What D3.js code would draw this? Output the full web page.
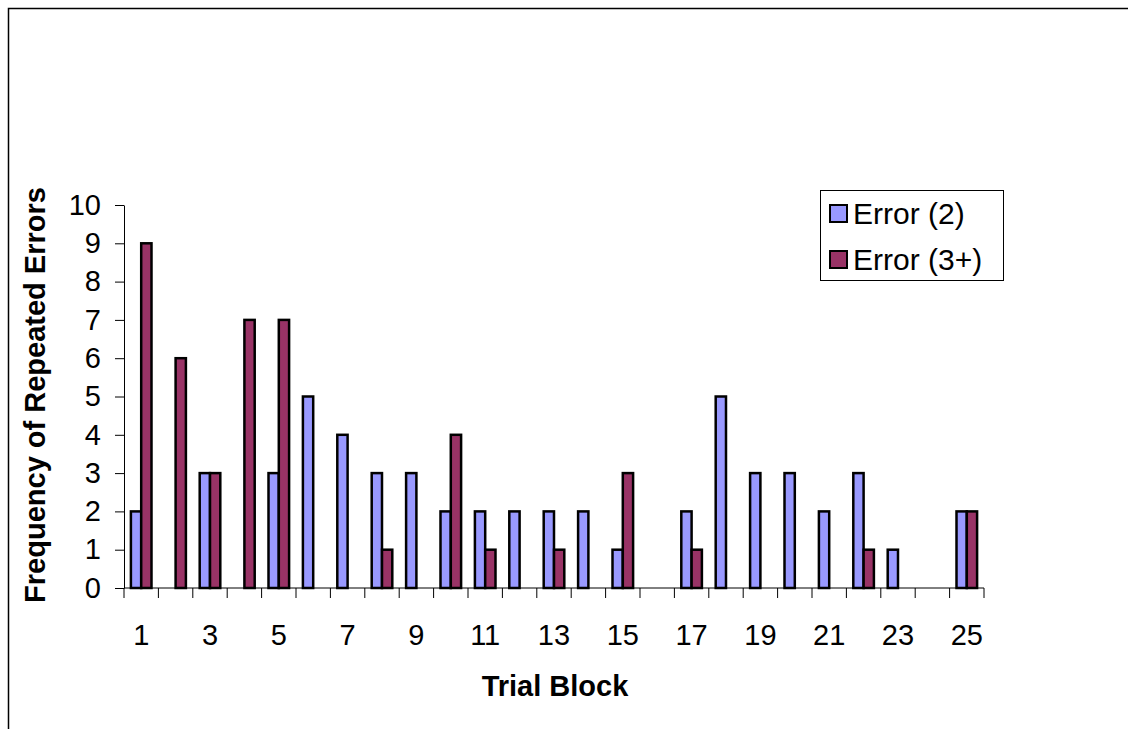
<!DOCTYPE html>
<html>
<head>
<meta charset="utf-8">
<script src="https://cdn.jsdelivr.net/npm/d3@7"></script>
<style>
html,body{margin:0;padding:0;background:#fff;}
svg{display:block;font-family:Arial,"Liberation Sans",sans-serif;}
</style>
</head>
<body>
<svg id="chart" width="1128" height="729"></svg>
<script>
const categories = ["1","2","3","4","5","6","7","8","9","10","11","12","13","14","15","16","17","18","19","20","21","22","23","24","25"];
const seriesNames = ["Error (2)", "Error (3+)"];
const error2  = [2,0,3,0,3,5,4,3,3,2,2,2,2,2,1,0,2,5,3,3,2,3,1,0,2];
const error3p = [9,6,3,7,7,0,0,1,0,4,1,0,1,0,3,0,1,0,0,0,0,1,0,0,2];
const yTicks = [0,1,2,3,4,5,6,7,8,9,10];
const xLabels = ["1","3","5","7","9","11","13","15","17","19","21","23","25"];
const colors = ["#9999FF", "#993366"];

(function(){
const svg = d3.select("#chart");

// outer chart frame
svg.append("rect").attr("x",8.5).attr("y",8.5).attr("width",1140).attr("height",740)
  .attr("fill","none").attr("stroke","#000").attr("stroke-width",1.5);

const pL = 124, pR = 984, pT = 205, pB = 588;
const x0 = d3.scaleBand().domain(categories).range([pL,pR]).padding(0);
const x1 = d3.scaleBand().domain(seriesNames).range([0,x0.bandwidth()]).paddingInner(0).paddingOuter(0.67);
const y = d3.scaleLinear().domain([0,10]).range([pB,pT]);

const data = categories.map((c,i)=>({cat:c, vals:[error2[i], error3p[i]]}));

// bars
const groups = svg.append("g").selectAll("g").data(data).join("g")
  .attr("transform", d=>`translate(${x0(d.cat)},0)`);
groups.selectAll("rect").data(d=>d.vals.map((v,j)=>({v, s:seriesNames[j], j})).filter(e=>e.v>0))
  .join("rect")
  .attr("x", e=>x1(e.s))
  .attr("width", x1.bandwidth())
  .attr("y", e=>y(e.v))
  .attr("height", e=>y(0)-y(e.v))
  .attr("fill", e=>colors[e.j])
  .attr("stroke","#000").attr("stroke-width",2.5);

// y axis
const yAxis = d3.axisLeft(y).tickValues(yTicks).tickSize(9).tickPadding(14).tickSizeOuter(0);
const gy = svg.append("g").attr("transform",`translate(${pL},0)`).call(yAxis);
gy.selectAll("text").attr("font-size",29).attr("fill","#000").attr("font-family","Arial, 'Liberation Sans', sans-serif");
gy.select(".domain").attr("stroke","#000");
gy.selectAll(".tick line").attr("stroke","#000");

// x axis: ticks at band boundaries
const xg = svg.append("g");
xg.append("line").attr("x1",pL).attr("x2",pR).attr("y1",pB).attr("y2",pB).attr("stroke","#000");
const boundaries = categories.map(c=>x0(c)).concat([x0(categories[categories.length-1])+x0.bandwidth()]);
xg.selectAll("line.tk").data(boundaries).join("line").attr("class","tk")
  .attr("x1",d=>d).attr("x2",d=>d).attr("y1",pB).attr("y2",pB+10).attr("stroke","#000");
xg.selectAll("text").data(xLabels).join("text")
  .attr("x", d=>x0(d)+x0.bandwidth()/2).attr("y",645)
  .attr("text-anchor","middle").attr("font-size",29).attr("fill","#000").text(d=>d);

// axis titles
svg.append("text").attr("x",555).attr("y",696).attr("text-anchor","middle")
  .attr("font-size",29).attr("font-weight","bold").text("Trial Block");
svg.append("text").attr("transform","translate(45,395) rotate(-90)").attr("text-anchor","middle")
  .attr("font-size",29).attr("font-weight","bold").text("Frequency of Repeated Errors");

// legend
const lg = svg.append("g");
lg.append("rect").attr("x",820.5).attr("y",190.5).attr("width",183).attr("height",90)
  .attr("fill","#fff").attr("stroke","#000").attr("stroke-width",1);
seriesNames.forEach((s,i)=>{
  lg.append("rect").attr("x",830).attr("y",205+i*46).attr("width",17).attr("height",17)
    .attr("fill",colors[i]).attr("stroke","#000").attr("stroke-width",2);
  lg.append("text").attr("x",853).attr("y",224+i*46).attr("font-size",30).attr("fill","#000").text(s);
});
})();
</script>
</body>
</html>
